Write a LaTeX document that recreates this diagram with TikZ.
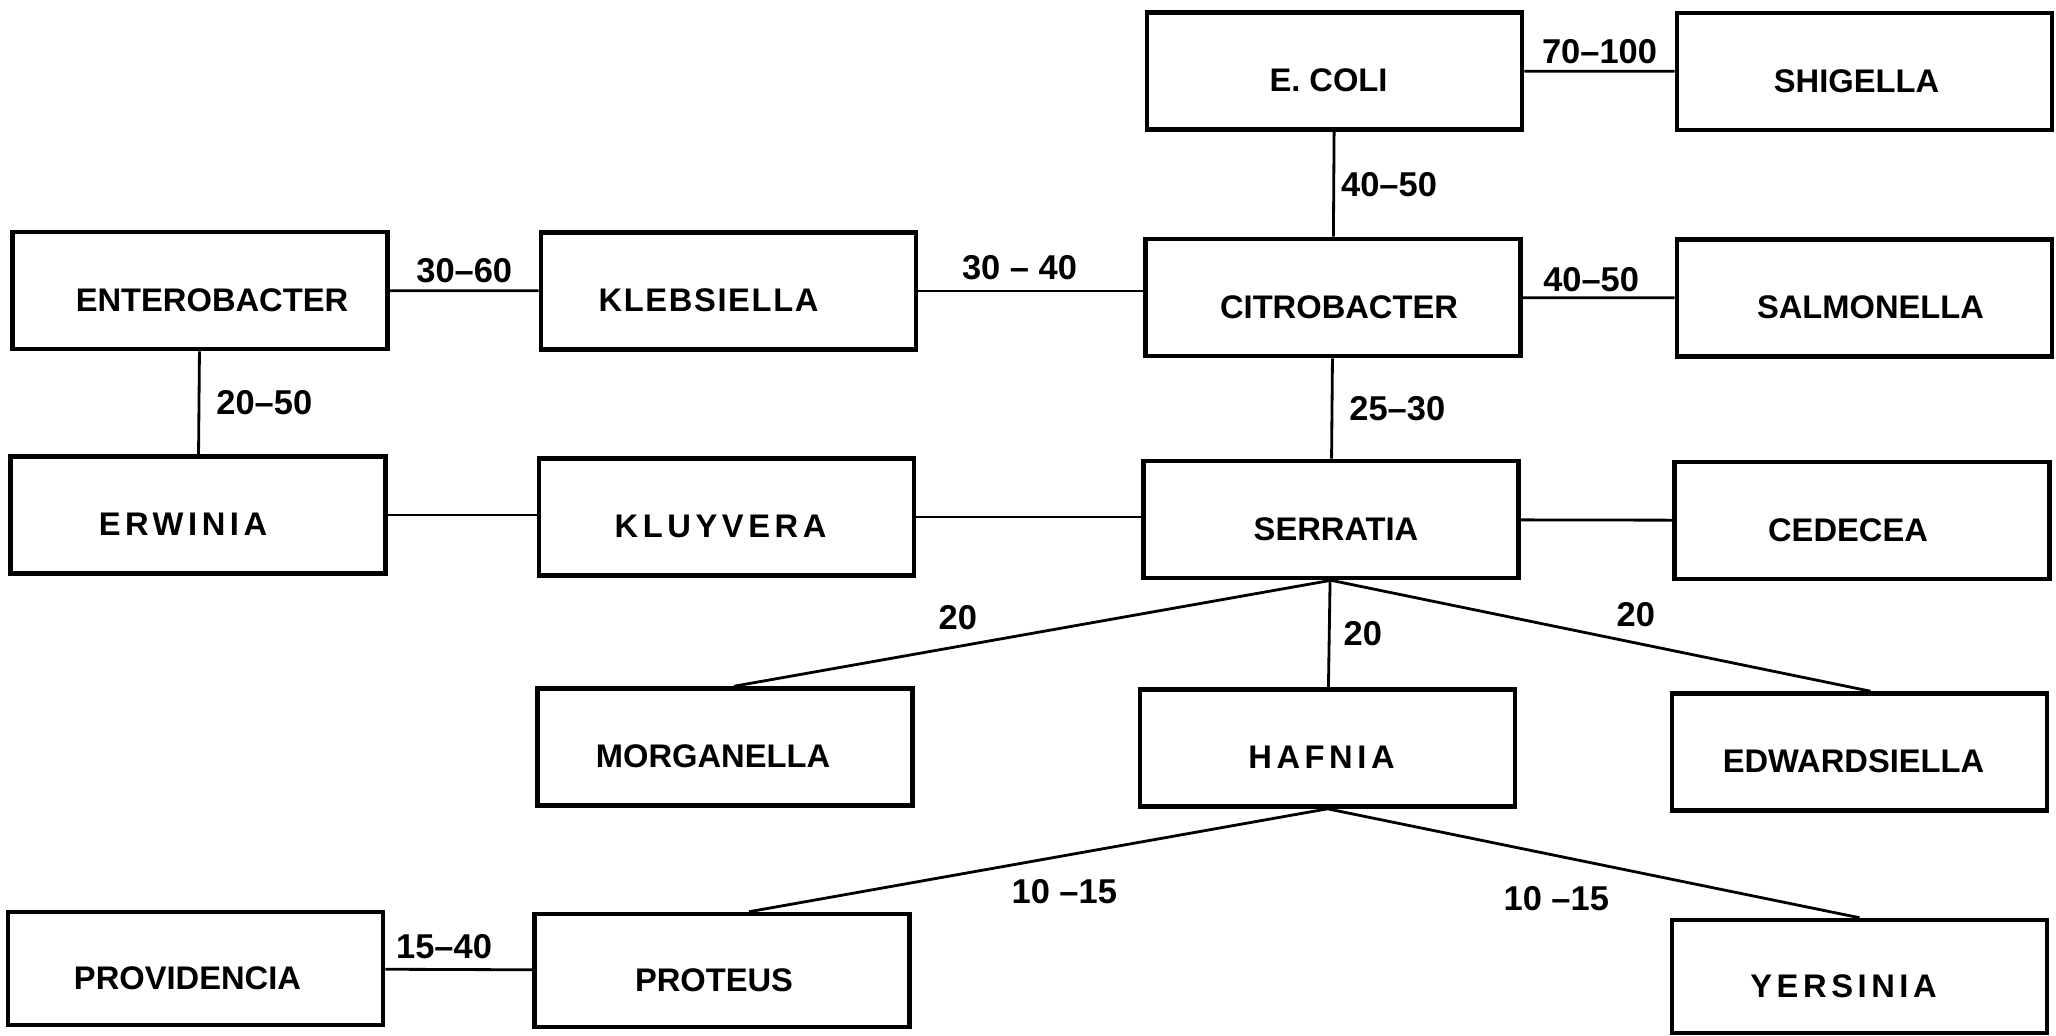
\documentclass[tikz,border=0pt]{standalone}
\usepackage{fontspec}
\setmainfont{Liberation Sans}
\newfontfamily\spacedfont{Liberation Sans}[LetterSpace=14]

\begin{document}
\begin{tikzpicture}[x=1cm, y=1cm]
    % --- Style Definitions ---
    % 'taxon' is a genus box, 'link' a connecting line,
    % 'dist' the range written beside a line.
    \tikzstyle{taxon} = [draw, line width=1.3pt, black, minimum width=3.75cm,
        minimum height=1.17cm, text height=4.1mm, text depth=0pt,
        font=\fontsize{9.3pt}{11pt}\selectfont\bfseries]
    \tikzstyle{link} = [draw, line width=0.8pt, black]
    \tikzstyle{dist} = [inner sep=0.5mm, font=\fontsize{9.8pt}{12pt}\selectfont\bfseries]

    % --- Page Size ---
    \useasboundingbox (0,0) rectangle (20.56,-10.35);

    % --- Genus Boxes ---
    % One row after another, from the top down.
    % (an \hspace* nudges a name off the box centre, as printed)
    \node[taxon] (ecoli)        at (13.345,-0.71)  {E. COLI\hspace*{1.2mm}};
    \node[taxon] (shigella)     at (18.645,-0.715) {SHIGELLA\hspace*{1.6mm}};
    \node[taxon] (enterobacter) at (2.00,-2.905)   {\hspace*{2.4mm}ENTEROBACTER};
    \node[taxon] (klebsiella)   at (7.285,-2.91)   {\addfontfeatures{LetterSpace=5}KLEBSIELLA\hspace*{4mm}};
    \node[taxon] (citrobacter)  at (13.33,-2.975)  {\hspace*{1.2mm}CITROBACTER};
    \node[taxon] (salmonella)   at (18.645,-2.98)  {\hspace*{1.2mm}SALMONELLA};
    \node[taxon] (erwinia)      at (1.98,-5.15)    {\spacedfont\bfseries ERWINIA\hspace*{3mm}};
    \node[taxon] (kluyvera)     at (7.265,-5.17)   {\spacedfont\bfseries KLUYVERA\hspace*{1.2mm}};
    \node[taxon] (serratia)     at (13.31,-5.195)  {\hspace*{1mm}SERRATIA};
    \node[taxon] (cedecea)      at (18.62,-5.205)  {CEDECEA\hspace*{2.8mm}};
    \node[taxon] (morganella)   at (7.25,-7.47)    {MORGANELLA\hspace*{2.4mm}};
    \node[taxon] (hafnia)       at (13.275,-7.48)  {\spacedfont\bfseries HAFNIA\hspace*{1.2mm}};
    \node[taxon] (edwardsiella) at (18.595,-7.52)  {EDWARDSIELLA\hspace*{1.2mm}};
    \node[taxon, minimum height=1.13cm] (providencia) at (1.955,-9.685) {PROVIDENCIA\hspace*{1.6mm}};
    \node[taxon, minimum height=1.13cm] (proteus)     at (7.22,-9.705)  {PROTEUS\hspace*{1.6mm}};
    \node[taxon, minimum height=1.13cm] (yersinia)    at (18.595,-9.765) {\spacedfont\bfseries YERSINIA\hspace*{3.2mm}};

    % --- Horizontal Links ---
    \draw[link] (ecoli) -- node[dist, above=0.1mm] {70--100} (shigella);
    \draw[link] (enterobacter) -- node[dist, above=0.1mm] {30--60} (klebsiella);
    \draw[link] (klebsiella.east) -- node[dist, pos=0.45, above=0.5mm] {30 -- 40} (klebsiella.east -| citrobacter.west);
    \draw[link] (citrobacter) -- node[dist, pos=0.45, above=0mm] {40--50} (salmonella);
    \draw[link] (erwinia.east) -- (erwinia.east -| kluyvera.west);
    \draw[link] (kluyvera.east) -- (kluyvera.east -| serratia.west);
    \draw[link] (serratia) -- (cedecea);
    \draw[link] (providencia) -- node[dist, pos=0.4, above=0.4mm] {15--40} (proteus);

    % --- Vertical Links ---
    \draw[link] (ecoli) -- node[dist, right=0.1mm] {40--50} (citrobacter);
    \draw[link] (enterobacter) -- node[dist, right=1.1mm] {20--50} (erwinia);
    \draw[link] (citrobacter) -- node[dist, right=1.1mm] {25--30} (serratia);
    \draw[link] (serratia) -- node[dist, right=0.8mm] {20} (hafnia);

    % --- Fan-out Links ---
    \draw[link] (serratia.south) -- node[dist, pos=0.625, above=1mm] {20} ([xshift=0.09cm]morganella.north);
    \draw[link] (serratia.south) -- node[dist, pos=0.565, above=1mm] {20} ([xshift=0.11cm]edwardsiella.north);
    \draw[link] (hafnia.south) -- node[dist, pos=0.455, below=1.7mm] {10 --15} ([xshift=0.27cm]proteus.north);
    \draw[link] (hafnia.south) -- node[dist, pos=0.43, below=2.4mm] {10 --15} (yersinia.north);
\end{tikzpicture}
\end{document}
